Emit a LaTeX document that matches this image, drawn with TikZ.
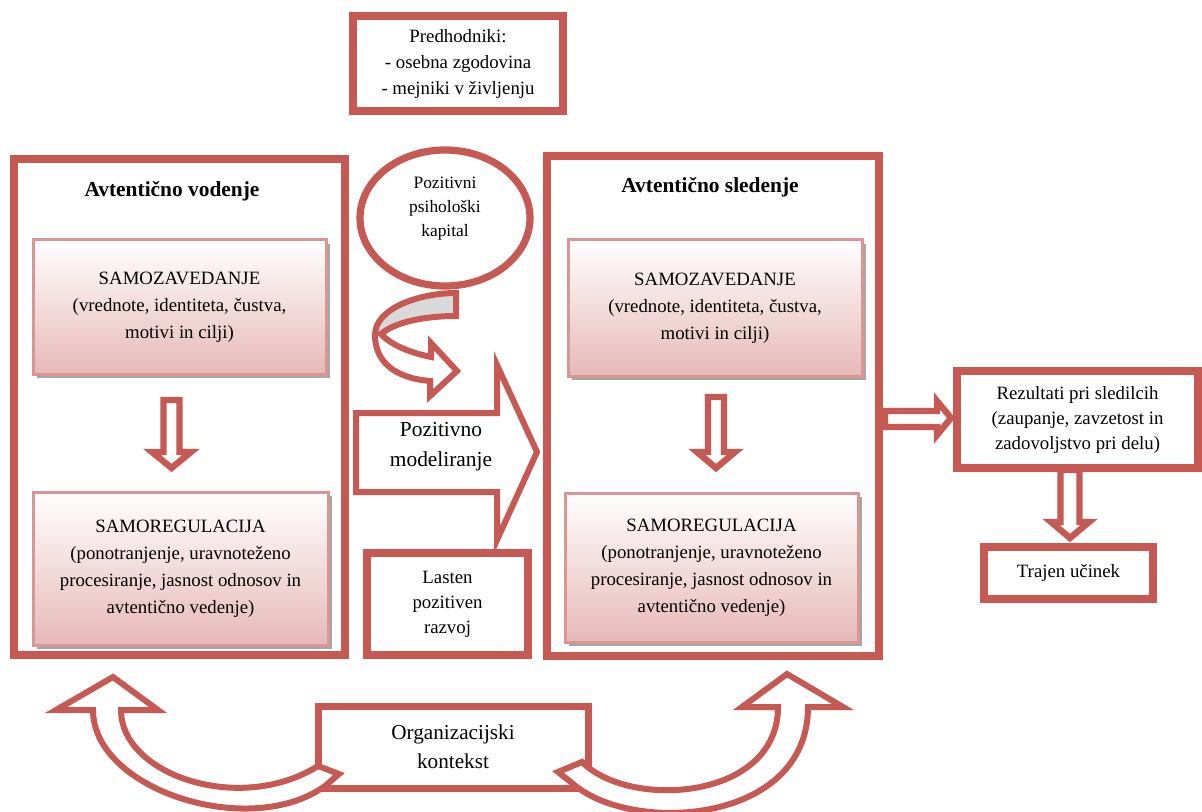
\documentclass[tikz,border=0pt]{standalone}
\usepackage{fontspec}
\setmainfont{Liberation Serif}
\usetikzlibrary{shadows,shapes.geometric}
\definecolor{redb}{RGB}{198,89,84}
\definecolor{pinkb}{RGB}{217,150,148}
\definecolor{pinkf}{RGB}{230,185,184}
\begin{document}
\begin{tikzpicture}[x=0.5pt,y=-0.5pt,
  sz/.style 2 args={minimum width=#1*0.5pt, minimum height=#2*0.5pt},
  bigbox/.style={draw=redb, line width=4pt, fill=white, inner sep=0pt, rectangle},
  midbox/.style={draw=redb, line width=3.8pt, fill=white, inner sep=0pt, rectangle, align=center, font=\fontsize{9.4}{13}\selectfont},
  inbox/.style={draw=pinkb, line width=1.5pt, top color=white, bottom color=pinkf,
    drop shadow={shadow xshift=2pt, shadow yshift=-2pt, fill=black!35, opacity=1},
    inner sep=0pt, rectangle, align=center, font=\fontsize{9.4}{13.5}\selectfont},
  blk/.style={draw=redb, line width=3.2pt, fill=white, line join=miter},
  ttl/.style={font=\fontsize{10.7}{13}\selectfont\bfseries},
  plain/.style={align=center, inner sep=0pt}]
\useasboundingbox (0,0) rectangle (1202,812);

% top box
\node[midbox, sz={210}{95}] (P) at (458,63.5) {Predhodniki:\\- osebna zgodovina\\- mejniki v življenju};

% big boxes
\node[bigbox, sz={331}{496}] (L) at (179.5,407) {};
\node[bigbox, sz={332}{500}] (R) at (713,406) {};
\node[ttl] (Lt) at (172,191) {Avtentično vodenje};
\node[ttl] (Rt) at (710,187) {Avtentično sledenje};

% inner boxes
\node[inbox, sz={293}{134}] (lsz) at (179.5,307) {SAMOZAVEDANJE\\(vrednote, identiteta, čustva,\\motivi in cilji)};
\node[inbox, sz={295}{153}] (lsr) at (180.5,568.5) {SAMOREGULACIJA\\(ponotranjenje, uravnoteženo\\procesiranje, jasnost odnosov in\\avtentično vedenje)};
\node[inbox, sz={294}{136}] (rsz) at (715,308) {SAMOZAVEDANJE\\(vrednote, identiteta, čustva,\\motivi in cilji)};
\node[inbox, sz={293}{149}] (rsr) at (711.5,567.5) {SAMOREGULACIJA\\(ponotranjenje, uravnoteženo\\procesiranje, jasnost odnosov in\\avtentično vedenje)};

% down arrows inside big boxes
\draw[blk] (163.5,400) -- (179.5,400) -- (179.5,452) -- (191,452) -- (171.5,468) -- (152,452) -- (163.5,452) -- cycle;
\draw[blk] (708,397) -- (724,397) -- (724,452) -- (735,452) -- (716,468) -- (697,452) -- (708,452) -- cycle;

% circle
\node[ellipse, draw=redb, line width=3.6pt, fill=white, sz={170}{136}, inner sep=0pt] (PK) at (445,218) {};
\node[plain, font=\fontsize{8.7}{12}\selectfont] (PKt) at (445,209) {Pozitivni\\psihološki\\kapital};

% curved arrow below circle
\fill[gray!30] (456,293) -- (456,316) .. controls (425,316) and (395,322) .. (381,334) -- (375,335) .. controls (375,308) and (420,293) .. (456,293) -- cycle;
\draw[draw=redb, line width=3pt, line join=miter] (456,293) -- (456,316) .. controls (425,316) and (395,322) .. (381,334) .. controls (392,346) and (412,353) .. (431,357) -- (431,343) -- (457,371) -- (430,396) -- (430,381) .. controls (395,378) and (375,362) .. (375,335) .. controls (375,308) and (420,293) .. (456,293) -- cycle;

% big arrow Pozitivno modeliranje
\draw[blk, line width=3pt] (356,413) -- (497,413) -- (497,365) -- (537,452) -- (497,540) -- (497,492) -- (356,492) -- cycle;
\node[plain, font=\fontsize{10.7}{15}\selectfont] (PM) at (441,447) {Pozitivno\\modeliranje};

% Lasten box
\node[midbox, sz={161}{102}, font=\fontsize{9.4}{12.5}\selectfont] (LP) at (447.5,604) {Lasten\\pozitiven\\razvoj};

% results
\node[midbox, sz={241}{97}, font=\fontsize{9.4}{12.5}\selectfont] (RZ) at (1077.5,419.5) {Rezultati pri sledilcih\\(zaupanje, zavzetost in\\zadovoljstvo pri delu)};
\node[midbox, sz={169}{52}] (TU) at (1068.5,573) {Trajen učinek};
\draw[blk] (885,411) -- (937,411) -- (937,401) -- (951,418) -- (937,435) -- (937,427) -- (885,427) -- cycle;
\draw[blk] (1060.5,470) -- (1079.5,470) -- (1079.5,522) -- (1089,522) -- (1070,538) -- (1051,522) -- (1060.5,522) -- cycle;

% organisational context
\node[midbox, sz={270}{82}, line width=3.5pt, font=\fontsize{10.6}{14.5}\selectfont] (OK) at (453,747) {Organizacijski\\kontekst};
\draw[blk, line width=3pt] (113,677) -- (158,710) -- (121,710) .. controls (121,775) and (240,815) .. (318,766) -- (339,774) -- (325,786) .. controls (250,840) and (93,790) .. (93,710) -- (56,710) -- cycle;
\draw[blk, line width=3pt] (787,674) -- (843,707) -- (808,707) .. controls (808,825) and (630,835) .. (572,783) -- (558,772) -- (582,762) .. controls (630,810) and (778,800) .. (778,707) -- (742,707) -- cycle;
\end{tikzpicture}
\end{document}
